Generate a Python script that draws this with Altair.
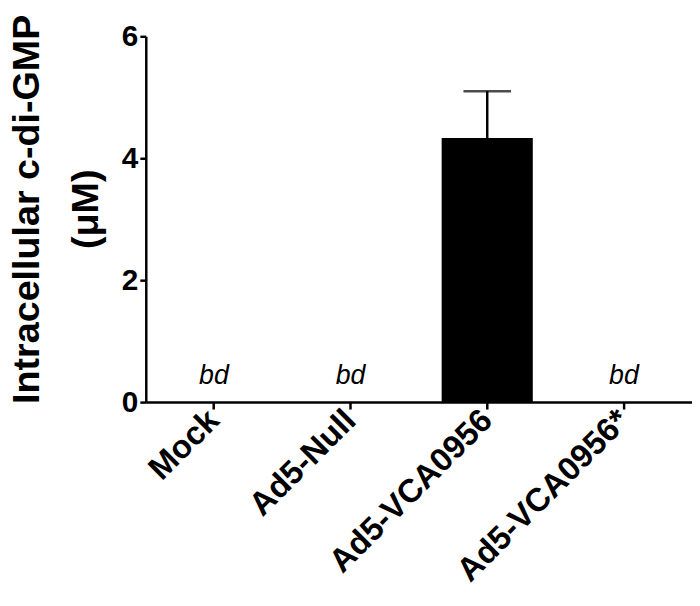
import altair as alt
import pandas as pd

categories = ["Mock", "Ad5-Null", "Ad5-VCA0956", "Ad5-VCA0956*"]
means = [0.0, 0.0, 4.33, 0.0]
errors = [0.0, 0.0, 0.77, 0.0]
labels = ["bd", "bd", "", "bd"]

df = pd.DataFrame({
    "cat": categories,
    "mean": means,
    "upper": [m + e for m, e in zip(means, errors)],
    "label": labels,
})
bars_df = df[df["mean"] > 0]
bd_df = df[df["label"] == "bd"]

font = "Liberation Sans"
ytitle = ["Intracellular c-di-GMP", "(μM)"]
xscale = alt.Scale(paddingInner=0.333, paddingOuter=0.165)
yscale = alt.Scale(domain=[0, 6], nice=False)

xenc = alt.X("cat:N", sort=categories, title=None, scale=xscale)
yaxis = alt.Axis(values=[0, 2, 4, 6], format="d")
yenc = alt.Y("mean:Q", scale=yscale, title=ytitle, axis=yaxis)

bars = alt.Chart(bars_df).mark_bar(color="black").encode(x=xenc, y=yenc)

err = alt.Chart(bars_df).mark_rule(color="black", strokeWidth=2.5).encode(
    x=xenc, y=yenc, y2="upper:Q",
)

cap = alt.Chart(bars_df).mark_tick(color="black", thickness=2.5, size=48, orient="horizontal").encode(
    x=xenc,
    y=alt.Y("upper:Q", scale=yscale, title=ytitle, axis=yaxis),
)

bd = alt.Chart(bd_df).mark_text(fontSize=27, fontStyle="italic", font=font,
                                color="black", baseline="alphabetic", dy=-18).encode(
    x=xenc, y=yenc, text="label:N",
)

chart = alt.layer(bars, err, cap, bd).properties(
    width=551, height=369, background="white",
    padding={"left": 0, "top": 3, "right": 0, "bottom": 0}
).configure_view(stroke=None, strokeWidth=0).configure_axis(
    grid=False, domainWidth=2.5, domainColor="black", tickSize=7, tickWidth=2.5,
    tickColor="black", labelFont=font, labelFontWeight="bold", labelColor="black",
    titleFont=font, titleFontWeight="bold", titleColor="black",
).configure_axisX(
    labelAngle=-45, labelFontSize=33, labelAlign="right", labelBaseline="middle",
    labelPadding=6, labelLimit=0,
).configure_axisY(
    labelFontSize=30, labelPadding=2, tickSize=6, titleFontSize=38, titlePadding=16,
    titleLineHeight=60, titleY=174,
)

chart.save("out.html", embed_options={"renderer": "svg", "actions": False})
